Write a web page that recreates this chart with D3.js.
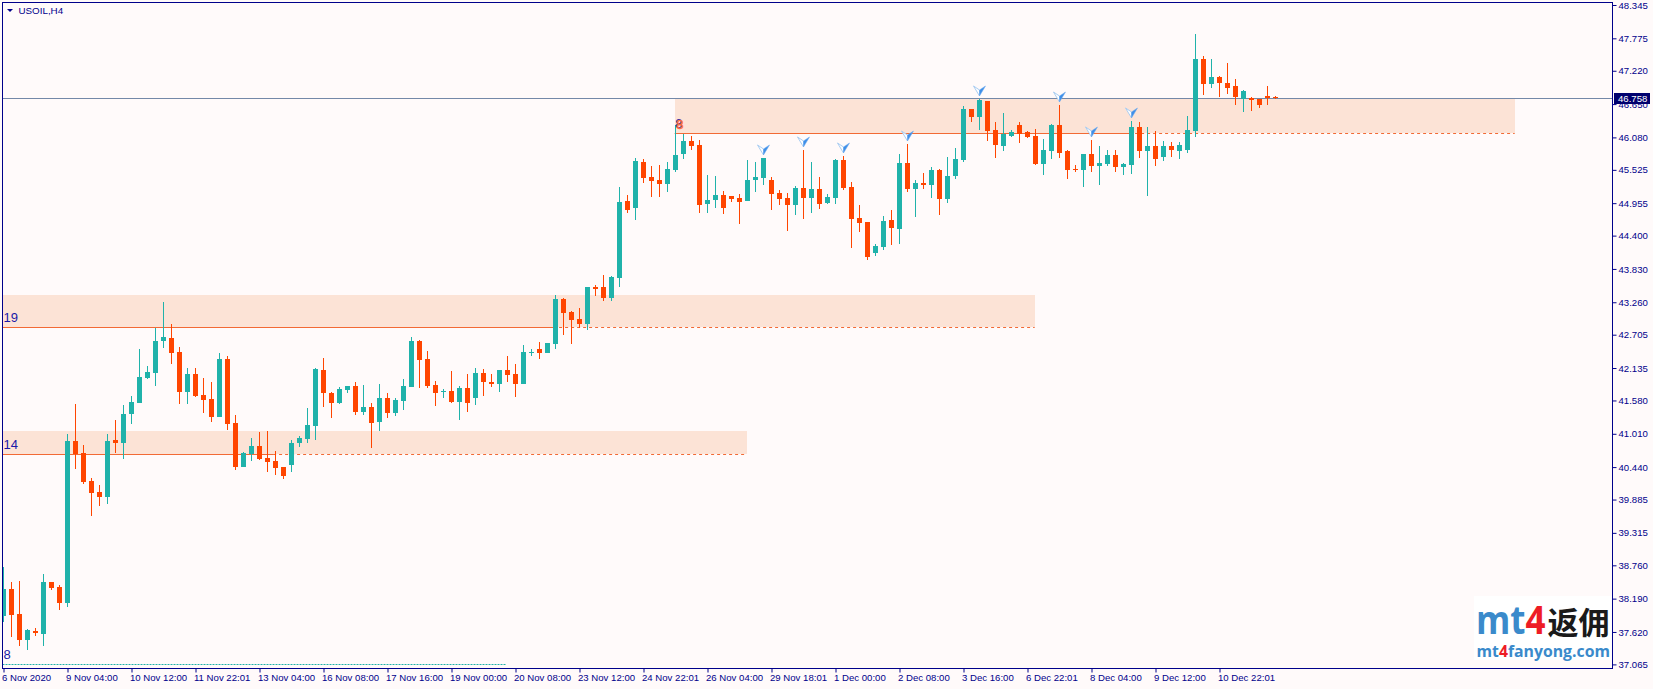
<!DOCTYPE html>
<html>
<head>
<meta charset="utf-8">
<script src="https://cdn.jsdelivr.net/npm/d3@7/dist/d3.min.js"></script>
<style>
    html, body { margin: 0; padding: 0; background: #fffafa; }
    svg { display: block; }
    .axis text { font-family: "Liberation Sans", Arial, sans-serif; font-size: 9.6px; fill: #00008b; }
    .axis line { stroke: #00008b; }
    .axis path { display: none; }
</style>
</head>
<body>
<div id="chart"></div>
<script>
// USOIL H4 candles, prices
var opens = [37.898,38.355,37.927,37.483,37.642,37.585,38.475,38.389,38.116,40.887,40.682,40.203,40.015,39.930,40.904,40.853,41.349,41.537,41.964,42.050,42.597,42.649,42.409,41.725,42.033,41.674,41.605,41.297,42.289,41.195,40.442,40.665,40.801,40.596,40.545,40.442,40.476,40.853,40.921,41.143,42.101,41.708,41.537,41.759,41.828,41.383,41.468,41.212,41.622,41.366,41.571,41.810,42.597,42.289,41.845,41.737,41.742,41.554,41.793,41.622,42.050,41.896,41.862,42.101,42.033,41.862,42.392,42.460,42.392,42.546,43.316,43.094,42.974,42.888,43.521,43.521,43.333,43.675,44.992,44.872,45.659,45.403,45.351,45.283,45.522,45.796,46.019,45.950,44.941,45.009,45.095,45.078,45.043,44.992,45.351,45.386,45.351,45.129,45.043,44.924,45.215,45.043,45.197,44.958,45.043,45.693,45.232,44.701,44.633,44.103,44.205,44.667,44.513,45.642,45.197,45.300,45.266,45.522,45.026,45.420,45.693,46.566,46.429,46.703,46.207,45.933,46.104,46.292,46.172,46.104,45.625,45.847,46.292,45.847,45.540,45.522,45.796,45.591,45.625,45.779,45.574,45.608,46.258,45.847,45.933,45.745,45.933,45.847,45.865,46.190,47.421,46.994,47.113,47.011,46.960,46.737,46.754,46.737,46.788,46.775];
var highs = [38.736,38.475,38.492,37.671,37.688,38.611,38.475,38.423,41.007,41.520,40.818,40.254,40.135,41.007,41.246,41.502,41.656,42.460,42.170,42.820,43.265,42.888,42.495,42.135,42.135,41.964,41.896,42.392,42.341,41.331,40.699,40.938,41.041,41.058,40.716,40.442,40.904,40.972,41.451,42.135,42.306,41.725,41.810,41.828,41.896,41.845,41.537,41.862,41.708,41.622,41.947,42.666,42.614,42.426,41.913,41.776,42.084,41.828,42.033,42.135,42.118,42.033,42.101,42.341,42.204,42.529,42.460,42.580,42.563,43.384,43.333,43.111,43.162,43.521,43.555,43.726,43.709,45.232,45.095,45.728,45.711,45.591,45.608,45.659,46.292,46.138,46.104,46.036,45.437,45.420,45.163,45.078,45.112,45.693,45.659,45.728,45.403,45.180,45.129,45.249,45.865,45.659,45.403,45.112,45.711,45.762,45.317,44.924,44.633,44.257,44.736,44.838,45.796,45.967,45.351,45.471,45.574,45.540,45.745,45.899,46.617,46.566,46.737,46.703,46.343,46.497,46.207,46.343,46.190,46.224,46.053,46.309,46.634,45.865,45.608,45.796,46.036,45.933,45.865,45.865,45.642,46.361,46.343,46.258,46.190,46.019,46.002,46.002,46.446,47.849,47.473,47.421,47.130,47.353,47.079,46.891,46.771,46.745,46.951,46.790];
var lows = [37.795,37.539,37.380,37.311,37.551,37.380,38.338,37.996,38.047,40.408,40.152,39.604,39.776,39.810,40.682,40.579,41.177,41.537,41.947,41.828,42.477,42.204,41.520,41.520,41.639,41.366,41.212,41.297,41.075,40.391,40.442,40.545,40.562,40.357,40.306,40.237,40.357,40.784,40.853,40.904,41.468,41.280,41.520,41.708,41.331,41.331,40.767,41.058,41.280,41.314,41.417,41.810,41.793,41.793,41.485,41.622,41.537,41.246,41.383,41.502,41.656,41.810,41.725,41.896,41.639,41.862,42.341,42.289,42.392,42.460,42.700,42.546,42.820,42.785,43.367,43.282,43.282,43.521,44.787,44.667,45.300,45.061,45.061,45.146,45.488,45.711,45.865,44.787,44.787,44.872,44.770,44.975,44.599,44.992,45.146,45.266,44.838,44.924,44.479,44.753,44.684,44.787,44.855,44.941,44.941,45.180,44.188,44.462,43.983,44.051,44.154,44.240,44.257,45.146,44.718,45.197,45.043,44.753,44.958,45.368,45.659,46.343,46.207,46.019,45.728,45.847,46.087,45.984,46.070,45.608,45.437,45.711,45.728,45.368,45.488,45.232,45.488,45.266,45.591,45.488,45.437,45.454,45.728,45.078,45.591,45.676,45.745,45.711,45.813,46.087,46.805,46.925,46.771,46.822,46.634,46.515,46.532,46.583,46.634,46.745];
var closes = [38.355,37.915,37.483,37.654,37.608,38.475,38.372,38.116,40.887,40.665,40.186,39.998,39.930,40.887,40.853,41.349,41.554,41.981,42.067,42.597,42.666,42.392,41.725,42.033,41.656,41.588,41.297,42.289,41.177,40.442,40.682,40.801,40.579,40.528,40.425,40.288,40.853,40.938,41.160,42.118,41.708,41.537,41.776,41.828,41.383,41.468,41.195,41.622,41.366,41.588,41.828,42.597,42.272,41.828,41.708,41.747,41.554,41.793,41.537,42.050,41.896,41.862,42.101,42.016,41.862,42.409,42.409,42.392,42.563,43.316,43.076,42.957,42.888,43.521,43.487,43.333,43.692,44.975,44.838,45.676,45.386,45.334,45.283,45.540,45.779,46.019,45.933,44.924,45.009,45.095,44.872,45.026,44.975,45.351,45.403,45.728,45.112,45.026,44.924,45.215,45.043,45.197,44.941,45.061,45.693,45.215,44.684,44.616,44.034,44.222,44.650,44.530,45.642,45.197,45.300,45.266,45.522,45.026,45.420,45.711,46.566,46.429,46.720,46.190,45.950,46.138,46.172,46.138,46.087,45.625,45.865,46.292,45.813,45.522,45.522,45.796,45.591,45.642,45.779,45.574,45.625,46.258,45.847,45.933,45.711,45.933,45.865,45.950,46.207,47.421,46.994,47.113,47.011,46.925,46.771,46.874,46.720,46.634,46.754,46.758];

// time labels, one every 8 bars
var timeLabels = ["6 Nov 2020","9 Nov 04:00","10 Nov 12:00","11 Nov 22:01","13 Nov 04:00","16 Nov 08:00","17 Nov 16:00","19 Nov 00:00","20 Nov 08:00","23 Nov 12:00","24 Nov 22:01","26 Nov 04:00","29 Nov 18:01","1 Dec 00:00","2 Dec 08:00","3 Dec 16:00","6 Dec 22:01","8 Dec 04:00","9 Dec 12:00","10 Dec 22:01"];
var priceTicks = [48.345,47.775,47.220,46.650,46.080,45.525,44.955,44.400,43.830,43.260,42.705,42.135,41.580,41.010,40.440,39.885,39.315,38.760,38.190,37.620,37.065];
var lastPrice = 46.758;

// supply zones
var zoneLabels = ["19","14","8"];
var zoneTops = [43.384,41.058,46.737];
var zoneBottoms = [42.837,40.665,46.155];
var zoneStarts = [-2,-2,83.9];
var zoneSolidEnds = [68.7,33.7,140.7];
var zoneEnds = [128.9,92.9,188.9];
var bottomLineEnd = 62.8;
var bottomLinePrice = 37.07;

// bars that carry a blue marker
var markerBars = [95,100,105,113,122,132,136,141];

var width = 1653,
    height = 689,
    margin = {top:2, right:1612, bottom:668, left:2};

var orange = "#ff4500",
    teal = "#20b2aa",
    navy = "#00008b",
    zoneFill = "#fce3d6",
    zoneLine = "#f26a35";

var x = d3.scaleLinear().domain([0, opens.length - 1]).range([3.5, 1275.5]);
var y = d3.scaleLinear().domain([48.345, 37.065]).range([5, 664.4]);

var svg = d3.select("#chart").append("svg")
    .attr("width", width)
    .attr("height", height)
    .style("font-family", "'Liberation Sans', Arial, sans-serif");

svg.append("rect")
    .attr("width", width)
    .attr("height", height)
    .attr("fill", "#fffafa");

svg.append("clipPath").attr("id", "plot")
    .append("rect")
    .attr("x", margin.left + 1)
    .attr("y", margin.top + 1)
    .attr("width", margin.right - margin.left - 1)
    .attr("height", margin.bottom - margin.top - 1);

var plot = svg.append("g").attr("clip-path", "url(#plot)");

// zones first so the candles sit on top
var zoneIdx = d3.range(zoneLabels.length);

plot.selectAll("rect.zone")
    .data(zoneIdx)
    .join("rect")
    .attr("class", "zone")
    .attr("x", function(i) { return Math.round(x(zoneStarts[i])); })
    .attr("y", function(i) { return Math.round(y(zoneTops[i])); })
    .attr("width", function(i) { return Math.round(x(zoneEnds[i])) - Math.round(x(zoneStarts[i])); })
    .attr("height", function(i) { return Math.round(y(zoneBottoms[i])) - Math.round(y(zoneTops[i])); })
    .attr("fill", zoneFill);

plot.selectAll("line.zoneSolid")
    .data(zoneIdx)
    .join("line")
    .attr("class", "zoneSolid")
    .attr("x1", function(i) { return x(zoneStarts[i]); })
    .attr("x2", function(i) { return x(zoneSolidEnds[i]); })
    .attr("y1", function(i) { return Math.round(y(zoneBottoms[i])) + 0.5; })
    .attr("y2", function(i) { return Math.round(y(zoneBottoms[i])) + 0.5; })
    .attr("stroke", zoneLine);

plot.selectAll("line.zoneDash")
    .data(zoneIdx)
    .join("line")
    .attr("class", "zoneDash")
    .attr("x1", function(i) { return x(zoneSolidEnds[i]); })
    .attr("x2", function(i) { return x(zoneEnds[i]); })
    .attr("y1", function(i) { return Math.round(y(zoneBottoms[i])) + 0.5; })
    .attr("y2", function(i) { return Math.round(y(zoneBottoms[i])) + 0.5; })
    .attr("stroke", zoneLine)
    .attr("stroke-dasharray", "3,3");

// dotted line at the bottom of the chart
plot.append("line")
    .attr("x1", x(-2))
    .attr("x2", x(bottomLineEnd))
    .attr("y1", Math.round(y(bottomLinePrice)) + 0.5)
    .attr("y2", Math.round(y(bottomLinePrice)) + 0.5)
    .attr("stroke", teal)
    .attr("stroke-dasharray", "2,1");

// current price line
plot.append("line")
    .attr("x1", margin.left)
    .attr("x2", margin.right)
    .attr("y1", Math.round(y(lastPrice)) + 0.5)
    .attr("y2", Math.round(y(lastPrice)) + 0.5)
    .attr("stroke", "#7488a8");

// candles
var candle = plot.selectAll("g.candle")
    .data(d3.range(opens.length))
    .join("g")
    .attr("class", "candle");

candle.append("line")
    .attr("x1", function(i) { return Math.floor(x(i)) + 0.5; })
    .attr("x2", function(i) { return Math.floor(x(i)) + 0.5; })
    .attr("y1", function(i) { return Math.round(y(highs[i])); })
    .attr("y2", function(i) { return Math.round(y(lows[i])); })
    .attr("stroke", function(i) { return closes[i] >= opens[i] ? teal : orange; });

candle.append("rect")
    .attr("x", function(i) { return Math.floor(x(i)) - 2; })
    .attr("width", 5)
    .attr("y", function(i) { return Math.round(y(Math.max(opens[i], closes[i]))); })
    .attr("height", function(i) {
        return Math.max(1, Math.round(y(Math.min(opens[i], closes[i]))) - Math.round(y(Math.max(opens[i], closes[i]))));
    })
    .attr("fill", function(i) { return closes[i] >= opens[i] ? teal : orange; });

// blue markers above the swing bars
var marker = plot.selectAll("g.marker")
    .data(markerBars)
    .join("g")
    .attr("class", "marker")
    .attr("transform", function(i) { return "translate(" + x(i) + "," + (y(highs[i]) - 8) + ")"; });

marker.append("path")
    .attr("d", "M-6,-5L0,-1L0,5Z")
    .attr("fill", "#ffffff")
    .attr("stroke", "#a9cdf2");

marker.append("path")
    .attr("d", "M6,-5L0,-1L0,5Z")
    .attr("fill", "#3f8fe8")
    .attr("stroke", "#6aa9ee")
    .attr("stroke-width", 0.5);

// zone counters
svg.selectAll("text.zoneLabel")
    .data([0, 1])
    .join("text")
    .attr("class", "zoneLabel")
    .attr("x", 3.5)
    .attr("y", function(i) { return Math.round(y(zoneBottoms[i])) - 5; })
    .attr("font-size", 13)
    .attr("fill", "#1a1aa8")
    .text(function(i) { return zoneLabels[i]; });

svg.append("text")
    .attr("x", 3.5)
    .attr("y", Math.round(y(bottomLinePrice)) - 5)
    .attr("font-size", 13)
    .attr("fill", "#1a1aa8")
    .text(zoneLabels[2]);

// the "8" of the top zone is written twice, blue under orange
svg.append("text")
    .attr("x", x(zoneStarts[2]) + 0.5)
    .attr("y", Math.round(y(zoneBottoms[2])) - 5)
    .attr("font-size", 13)
    .attr("fill", "#1a1aa8")
    .text(zoneLabels[2]);

svg.append("text")
    .attr("x", x(zoneStarts[2]) + 1.5)
    .attr("y", Math.round(y(zoneBottoms[2])) - 4.5)
    .attr("font-size", 13)
    .attr("fill", "#ff6a3a")
    .attr("stroke", "#ff6a3a")
    .attr("stroke-width", 0.5)
    .text(zoneLabels[2]);

// frame
svg.append("rect")
    .attr("x", margin.left + 0.5)
    .attr("y", margin.top + 0.5)
    .attr("width", margin.right - margin.left)
    .attr("height", margin.bottom - margin.top)
    .attr("fill", "none")
    .attr("stroke", navy);

// price axis
var yAxis = d3.axisRight(y)
    .tickValues(priceTicks)
    .tickSize(4)
    .tickPadding(2)
    .tickFormat(d3.format(".3f"));

svg.append("g")
    .attr("class", "axis")
    .attr("transform", "translate(" + (margin.right + 0.5) + ",0)")
    .call(yAxis);

// time axis
var xAxis = d3.axisBottom(x)
    .tickValues(timeLabels.map(function(d, i) { return i * 8; }))
    .tickSize(4)
    .tickPadding(2)
    .tickFormat(function(d) { return timeLabels[d / 8]; });

svg.append("g")
    .attr("class", "axis")
    .attr("transform", "translate(0," + (margin.bottom + 0.5) + ")")
    .call(xAxis)
    .selectAll("text")
    .attr("text-anchor", "start")
    .attr("dx", -2);

// current price tag
svg.append("rect")
    .attr("x", margin.right + 2)
    .attr("y", Math.round(y(lastPrice)) - 5)
    .attr("width", 36)
    .attr("height", 11)
    .attr("fill", "#00006e");

svg.append("text")
    .attr("x", margin.right + 6)
    .attr("y", Math.round(y(lastPrice)) + 4)
    .attr("font-size", 9.6)
    .attr("fill", "#ffffff")
    .text(d3.format(".3f")(lastPrice));

// title
svg.append("path")
    .attr("d", "M7,9L13,9L10,12Z")
    .attr("fill", navy);

svg.append("text")
    .attr("x", 18.5)
    .attr("y", 13.5)
    .attr("font-size", 9.8)
    .attr("fill", navy)
    .text("USOIL,H4");

// watermark
var logo = svg.append("g");

logo.append("rect")
    .attr("x", 1474)
    .attr("y", 596)
    .attr("width", 137.5)
    .attr("height", 64)
    .attr("fill", "#ffffff");

var big = logo.append("text")
    .attr("transform", "translate(1476,634) scale(1.06,1.2)")
    .attr("font-size", 33)
    .attr("font-weight", "bold")
    .attr("font-family", "'Open Sans', sans-serif");

big.append("tspan").attr("fill", "#3a8acb").text("mt");
big.append("tspan").attr("fill", "#ee1c25").text("4");

logo.append("text")
    .attr("x", 1547.5)
    .attr("y", 634)
    .attr("font-size", 31)
    .attr("font-weight", "bold")
    .attr("fill", "#1a1a1a")
    .attr("font-family", "'Noto Sans CJK SC', sans-serif")
    .text("返佣");

var small = logo.append("text")
    .attr("x", 1476.5)
    .attr("y", 657)
    .attr("font-size", 15.8)
    .attr("font-weight", "bold")
    .attr("font-family", "'Open Sans', sans-serif");

small.append("tspan").attr("fill", "#3a8acb").text("mt");
small.append("tspan").attr("fill", "#ee1c25").text("4");
small.append("tspan").attr("fill", "#3a8acb").text("fanyong.com");
</script>
</body>
</html>
